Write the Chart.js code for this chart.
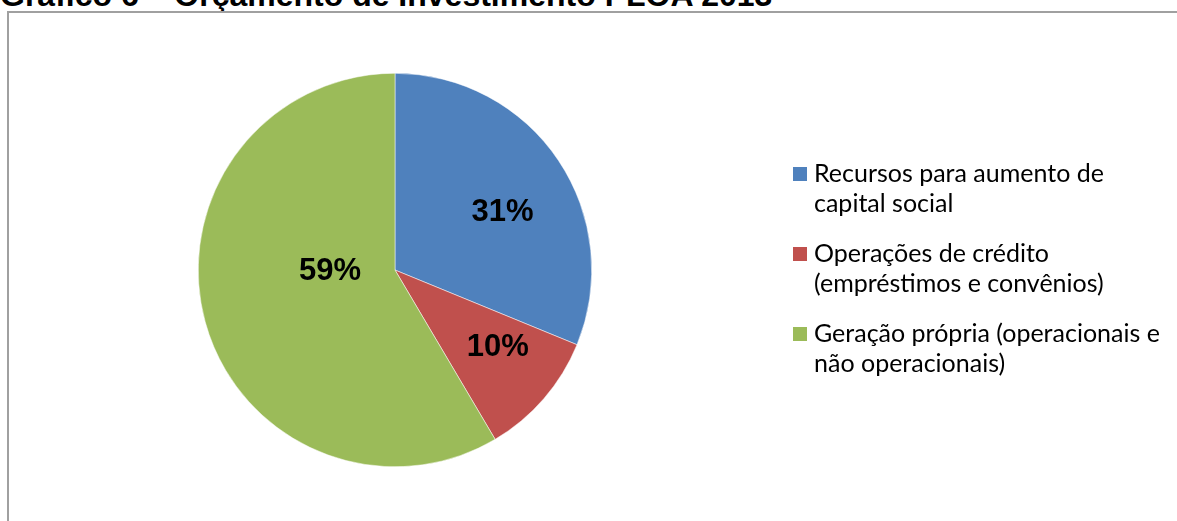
<!DOCTYPE html>
<html lang="pt-BR">
<head>
<meta charset="utf-8">
<title>Gráfico 6 – Orçamento de Investimento PLOA 2013</title>
<script src="https://cdn.jsdelivr.net/npm/chart.js@4.4.1/dist/chart.umd.min.js"></script>
<style>
  html, body { margin: 0; padding: 0; background: #fff; overflow: hidden; }
  body { width: 1177px; height: 521px; position: relative; }
  #title {
    position: absolute; left: 0; top: -21px;
    font: bold 32px "Liberation Sans", Arial, sans-serif;
    line-height: 32px; white-space: nowrap; color: #000;
  }
  #frame {
    position: absolute; left: 7px; top: 11px; width: 1300px; height: 600px;
    border-left: 2px solid #a0a0a0; border-top: 2px solid #a0a0a0;
  }
  #chart-wrap { position: absolute; left: 0; top: 0; width: 1177px; height: 521px; }
</style>
</head>
<body>
<div id="title">Gráfico 6 – Orçamento de Investimento PLOA 2013</div>
<div id="frame"></div>
<div id="chart-wrap"><canvas id="chart-budget"></canvas></div>
<script>
// Sources of the investment budget (share of total, %)
const categories = [
  ['Recursos para aumento de', 'capital social'],
  ['Operações de crédito', '(empréstimos e convênios)'],
  ['Geração própria (operacionais e', 'não operacionais)'],
];
const shares = [31.2, 10.3, 58.5];
const valueLabels = ['31%', '10%', '59%'];
const sliceColors = ['#4F81BD', '#C0504D', '#9BBB59'];

/**
 * Percent labels inside each slice
 */
const sliceLabels = {
  id: 'sliceLabels',
  afterDatasetsDraw(chart, args, opts) {
    const ctx = chart.ctx;
    const meta = chart.getDatasetMeta(0);
    ctx.save();
    ctx.font = opts.font;
    ctx.fillStyle = '#000';
    ctx.textAlign = 'center';
    ctx.textBaseline = 'middle';
    meta.data.forEach((arc, i) => {
      const p = arc.getProps(['x', 'y', 'startAngle', 'endAngle', 'outerRadius'], true);
      const [rf, shift] = opts.placement[i];
      const a = (p.startAngle + p.endAngle) / 2 + shift * Math.PI / 180;
      const r = p.outerRadius * rf;
      ctx.fillText(valueLabels[i], p.x + Math.cos(a) * r, p.y + Math.sin(a) * r);
    });
    ctx.restore();
  },
};

/**
 * Legend on the right, wrapped labels
 */
const sideLegend = {
  id: 'sideLegend',
  afterDraw(chart, args, opts) {
    const ctx = chart.ctx;
    const colors = chart.data.datasets[0].backgroundColor;
    ctx.save();
    ctx.font = opts.font;
    ctx.textBaseline = 'alphabetic';
    let y = opts.firstBaseline;
    chart.data.labels.forEach((lines, i) => {
      ctx.fillStyle = colors[i];
      ctx.fillRect(opts.left, y - opts.box - 1, opts.box, opts.box);
      ctx.fillStyle = '#000';
      lines.forEach((line, j) => {
        ctx.fillText(line, opts.left + opts.box + opts.gap, y + j * opts.lineHeight);
      });
      y += opts.itemStep;
    });
    ctx.restore();
  },
};

new Chart(document.getElementById('chart-budget'), {
  type: 'pie',
  data: {
    labels: categories,
    datasets: [{
      data: shares,
      backgroundColor: sliceColors,
      borderColor: '#ffffff',
      borderWidth: 0.5,
    }],
  },
  options: {
    responsive: true,
    maintainAspectRatio: false,
    animation: false,
    layout: { padding: { left: 198, top: 73, right: 585, bottom: 54 } },
    plugins: {
      legend: { display: false },
      tooltip: { enabled: false },
      sliceLabels: {
        font: 'bold 31px "Liberation Sans", Arial, sans-serif',
        placement: [[0.62, 5.6], [0.655, -3.8], [0.33, 14.3]],
      },
      sideLegend: {
        font: '25px Lato, "Open Sans", sans-serif',
        left: 793,
        box: 14,
        gap: 7,
        firstBaseline: 182,
        lineHeight: 30,
        itemStep: 80,
      },
    },
  },
  plugins: [sliceLabels, sideLegend],
});
</script>
</body>
</html>
